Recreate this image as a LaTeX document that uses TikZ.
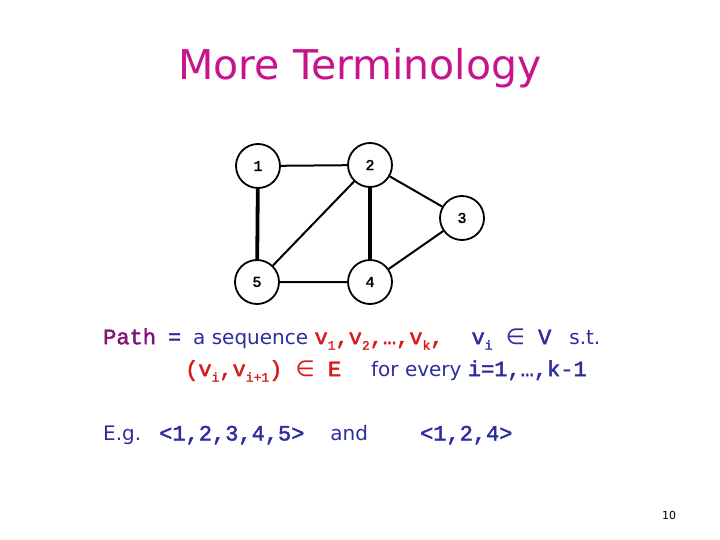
\documentclass[tikz,border=0pt]{standalone}
\usepackage{fontspec}
\setmainfont{DejaVu Sans}
\newfontfamily\mono{Liberation Mono}[FakeBold=2]
\newfontfamily\sym{DejaVu Sans}
\newcommand{\sub}[1]{\raisebox{-0.25em}{\fontsize{13}{13}\selectfont #1}}
\newcommand{\mt}[1]{{\mono\fontsize{22}{22}\selectfont #1}}
\definecolor{ttl}{RGB}{200,20,140}
\definecolor{blu}{RGB}{45,45,160}
\definecolor{pur}{RGB}{130,20,120}
\definecolor{rd}{RGB}{215,25,25}
\begin{document}
\begin{tikzpicture}[x=1pt,y=-1pt,
  vtx/.style={circle,draw,line width=1.8pt,minimum size=44pt,inner sep=0pt,font=\mono\fontsize{15}{15}\selectfont},
  edge/.style={line width=2pt},
  thick edge/.style={line width=3.8pt}]
\useasboundingbox (0,0) rectangle (720,540);
\node[text=ttl,font=\fontsize{41}{41}\selectfont] (t) at (360,68) {More Terminology};
\node[vtx] (n1) at (258,166) {1};
\node[vtx] (n2) at (370,165) {2};
\node[vtx] (n3) at (462,218) {3};
\node[vtx] (n5) at (257,282) {5};
\node[vtx] (n4) at (370,282) {4};
\draw[edge] (n1)--(n2) (n2)--(n3) (n3)--(n4) (n5)--(n4) (n5)--(n2);
\draw[thick edge] (n1)--(n5) (n2)--(n4);
\node[anchor=west,inner sep=0pt,font=\fontsize{20}{20}\selectfont,text=blu] (l1) at (103,339)
 {\mt{\color{pur}Path}\hspace{0.6em}\mt{=}\hspace{0.6em}a sequence \mt{\color{rd}v\sub{1},v\sub{2},…,v\sub{k},}\hspace{1.4em}\mt{v\sub{i} {\sym∈} V}\hspace{0.9em}s.t.};
\node[anchor=west,inner sep=0pt,font=\fontsize{20}{20}\selectfont,text=blu] (l2) at (185,371)
 {\mt{\color{rd}(v\sub{i},v\sub{i+1}) {\sym∈} E}\hspace{1.5em}for every \mt{i=1,…,k-1}};
\node[anchor=west,inner sep=0pt,font=\fontsize{20}{20}\selectfont,text=blu] (l3) at (103,435)
 {E.g.\hspace{0.9em}\mt{<1,2,3,4,5>}\hspace{1.3em}and\hspace{2.6em}\mt{<1,2,4>}};
\node[font=\fontsize{11}{11}\selectfont\rmfamily] (pg) at (669,515) {10};
\end{tikzpicture}
\end{document}
